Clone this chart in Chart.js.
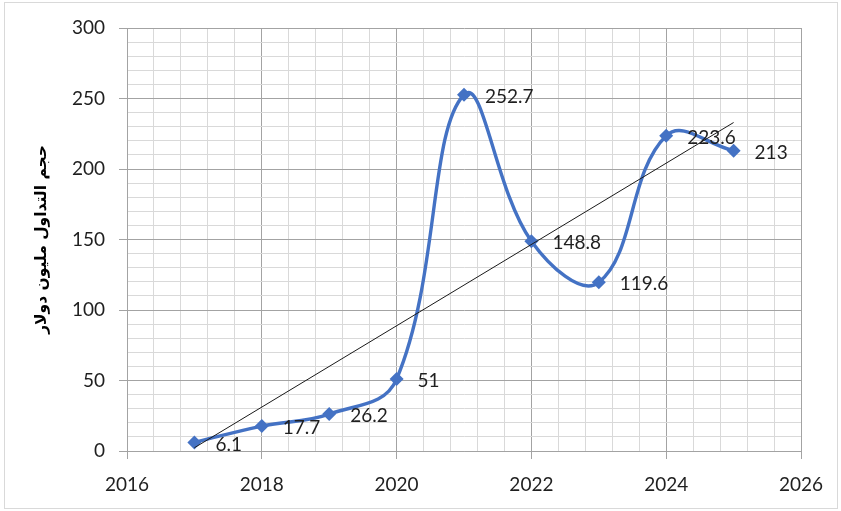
<!DOCTYPE html>
<html>
<head>
<meta charset="utf-8">
<script src="https://cdn.jsdelivr.net/npm/chart.js@4.4.0/dist/chart.umd.min.js"></script>
<style>
  html, body { margin: 0; padding: 0; background: #fff; }
  #wrap { position: absolute; left: 0; top: 0; width: 841px; height: 511px; }
</style>
</head>
<body>
<div id="wrap"><canvas id="c" width="841" height="511"></canvas></div>
<script>
// Trading volume by year (million dollars)
const years = [2017, 2018, 2019, 2020, 2021, 2022, 2023, 2024, 2025];
const volumes = [6.1, 17.7, 26.2, 51, 252.7, 148.8, 119.6, 223.6, 213];
const xTickLabels = [2016, 2018, 2020, 2022, 2024, 2026];
const yTickLabels = [0, 50, 100, 150, 200, 250, 300];
const yTitle = 'حجم التداول مليون دولار';

const MINOR_DIVS = 5;
const MAJOR_GRID = '#a3a3a3';
const MINOR_GRID = '#d9d9d9';
const TEXT = '#1f1f1f';

// Least-squares linear trend over the series
function linearTrend(xs, ys) {
  const n = xs.length;
  const mx = xs.reduce((a, b) => a + b, 0) / n;
  const my = ys.reduce((a, b) => a + b, 0) / n;
  let sxy = 0, sxx = 0;
  for (let i = 0; i < n; i++) {
    sxy += (xs[i] - mx) * (ys[i] - my);
    sxx += (xs[i] - mx) * (xs[i] - mx);
  }
  const slope = sxy / sxx;
  const f = x => my + slope * (x - mx);
  return [{ x: xs[0], y: f(xs[0]) }, { x: xs[n - 1], y: f(xs[n - 1]) }];
}

// Major ticks from the label list, plus evenly spaced minor grid ticks between them
function gridTicks(majors) {
  const out = [];
  for (let j = 0; j < majors.length - 1; j++) {
    const a = majors[j], b = majors[j + 1];
    for (let k = 0; k < MINOR_DIVS; k++) {
      out.push({ value: a + (b - a) * k / MINOR_DIVS, isMajor: k === 0 });
    }
  }
  out.push({ value: majors[majors.length - 1], isMajor: true });
  return out;
}

const points = years.map((y, i) => ({ x: y, y: volumes[i] }));

const frame = {
  id: 'frame',
  beforeDraw(chart) {
    const ctx = chart.ctx;
    ctx.save();
    ctx.fillStyle = '#fff';
    ctx.fillRect(0, 0, chart.width, chart.height);
    ctx.strokeStyle = '#d9d9d9';
    ctx.lineWidth = 1;
    ctx.strokeRect(4.5, 2.5, 833, 506);
    ctx.restore();
  }
};

const valueLabels = {
  id: 'valueLabels',
  afterDatasetsDraw(chart) {
    const ctx = chart.ctx;
    const meta = chart.getDatasetMeta(0);
    ctx.save();
    ctx.font = '19px Lato';
    ctx.fillStyle = TEXT;
    ctx.textAlign = 'left';
    ctx.textBaseline = 'middle';
    meta.data.forEach((pt, i) => {
      ctx.fillText(String(volumes[i]), pt.x + 21, pt.y + 2);
    });
    ctx.restore();
  }
};

new Chart(document.getElementById('c'), {
  type: 'scatter',
  data: {
    datasets: [
      {
        data: points,
        showLine: true,
        borderColor: '#4472c4',
        backgroundColor: '#4472c4',
        borderWidth: 3.4,
        tension: 0.4,
        pointStyle: 'rectRot',
        pointRadius: 7,
        pointBorderWidth: 0,
        order: 2
      },
      {
        data: linearTrend(years, volumes),
        showLine: true,
        borderColor: '#1a1a1a',
        borderWidth: 1,
        tension: 0,
        pointRadius: 0,
        order: 1
      }
    ]
  },
  options: {
    responsive: false,
    animation: false,
    layout: { padding: { top: 28, right: 40, bottom: 0, left: 0 } },
    plugins: { legend: { display: false }, tooltip: { enabled: false } },
    scales: {
      x: {
        type: 'linear',
        min: xTickLabels[0],
        max: xTickLabels[xTickLabels.length - 1],
        afterBuildTicks(scale) { scale.ticks = gridTicks(xTickLabels); },
        afterFit(scale) { scale.height = 60; },
        ticks: {
          autoSkip: false,
          maxRotation: 0,
          padding: 14,
          color: TEXT,
          font: { family: 'Lato', size: 19 },
          callback: v => xTickLabels.includes(Math.round(v * 1000) / 1000) ? String(Math.round(v)) : ''
        },
        grid: {
          tickLength: 8,
          color: c => c.tick && c.tick.isMajor ? MAJOR_GRID : MINOR_GRID,
          tickColor: c => c.tick && c.tick.isMajor ? MAJOR_GRID : 'rgba(0,0,0,0)'
        },
        border: { color: MAJOR_GRID }
      },
      y: {
        type: 'linear',
        min: yTickLabels[0],
        max: yTickLabels[yTickLabels.length - 1],
        afterBuildTicks(scale) { scale.ticks = gridTicks(yTickLabels); },
        afterFit(scale) { scale.width = 127; },
        ticks: {
          autoSkip: false,
          padding: 14,
          color: TEXT,
          font: { family: 'Lato', size: 19 },
          callback: v => yTickLabels.includes(Math.round(v * 1000) / 1000) ? String(Math.round(v)) : ''
        },
        grid: {
          tickLength: 8,
          color: c => c.tick && c.tick.isMajor ? MAJOR_GRID : MINOR_GRID,
          tickColor: c => c.tick && c.tick.isMajor ? MAJOR_GRID : 'rgba(0,0,0,0)'
        },
        border: { color: MAJOR_GRID },
        title: {
          display: true,
          text: yTitle,
          color: '#000',
          font: { family: 'DejaVu Sans', weight: 'bold', size: 15.5 },
          padding: { top: 33, bottom: 0 }
        }
      }
    }
  },
  plugins: [frame, valueLabels]
});
</script>
</body>
</html>
